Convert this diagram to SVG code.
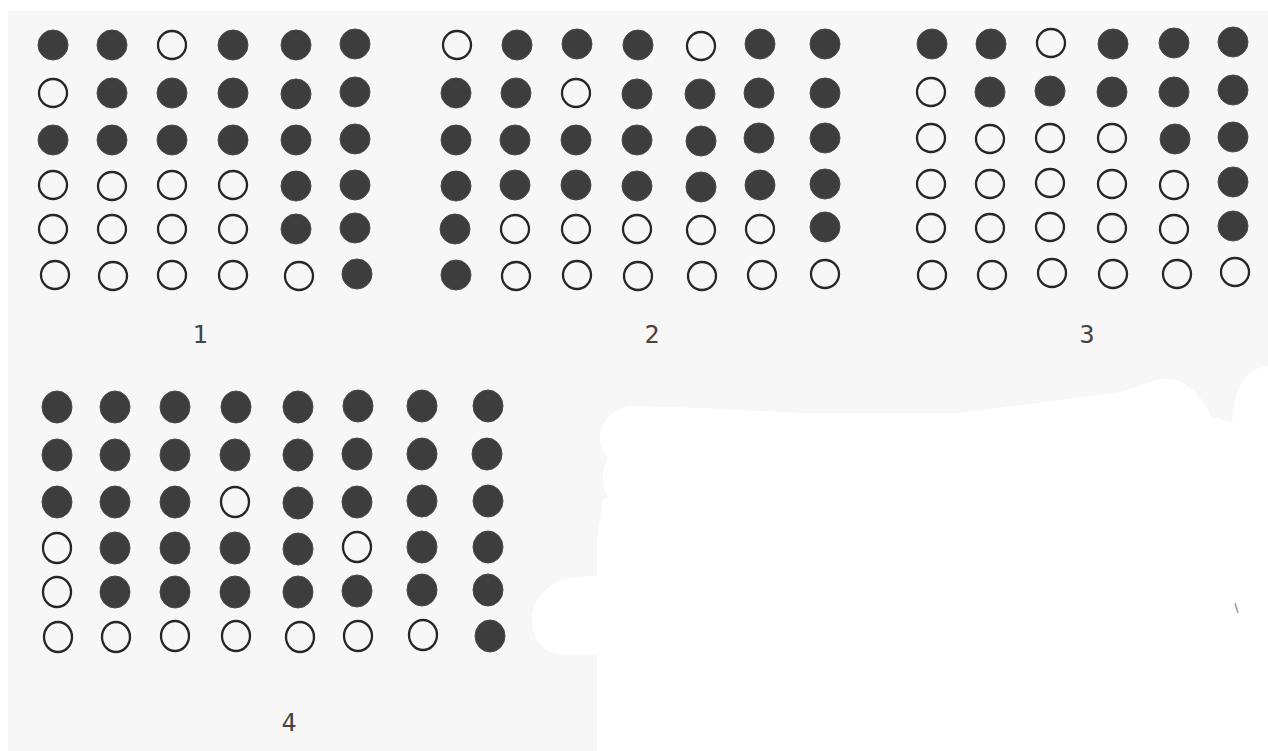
<svg xmlns="http://www.w3.org/2000/svg" width="1268" height="751" viewBox="0 0 1268 751">
<style>
.f{fill:#3d3d3d;stroke:#4a4a4a;stroke-width:1}
.o{fill:none;stroke:#262626;stroke-width:2.3}
.lbl{font-family:"DejaVu Sans Mono","Liberation Mono",monospace;font-size:25px;fill:#444;text-anchor:middle}
</style>
<rect x="0" y="0" width="1268" height="751" fill="#ffffff"/>
<rect x="8" y="11" width="1260" height="740" fill="#f7f7f7"/>
<path d="M597,751 L597,655 L565,655 C545,655 532,640 532,620 C532,598 550,580 575,577 L597,576 L597,540 L603,500 L608,497 C601,485 601,470 608,458 C598,448 598,432 603,425 C610,412 620,407 632,406 L700,408 L800,413 L960,413 L1120,392 L1150,382 C1165,376 1178,378 1190,388 C1202,398 1208,408 1210,416 L1232,422 L1235,400 C1240,378 1252,368 1268,366 L1268,751 Z" fill="#ffffff"/>
<path d="M1235,603 L1238,613" stroke="#999" stroke-width="1.5" fill="none"/>
<g id="connectors"/>
<g id="grid1">
<circle class="f" cx="53" cy="45" r="15"/><circle class="f" cx="112" cy="45" r="15"/><circle class="o" cx="172" cy="45" r="14"/><circle class="f" cx="233" cy="45" r="15"/><circle class="f" cx="296" cy="45" r="15"/><circle class="f" cx="355" cy="44" r="15"/>
<circle class="o" cx="53" cy="93" r="14"/><circle class="f" cx="112" cy="93" r="15"/><circle class="f" cx="172" cy="93" r="15"/><circle class="f" cx="233" cy="93" r="15"/><circle class="f" cx="296" cy="94" r="15"/><circle class="f" cx="355" cy="92" r="15"/>
<circle class="f" cx="53" cy="140" r="15"/><circle class="f" cx="112" cy="140" r="15"/><circle class="f" cx="172" cy="140" r="15"/><circle class="f" cx="233" cy="140" r="15"/><circle class="f" cx="296" cy="140" r="15"/><circle class="f" cx="355" cy="139" r="15"/>
<circle class="o" cx="53" cy="185" r="14"/><circle class="o" cx="112" cy="186" r="14"/><circle class="o" cx="172" cy="185" r="14"/><circle class="o" cx="233" cy="185" r="14"/><circle class="f" cx="296" cy="186" r="15"/><circle class="f" cx="355" cy="185" r="15"/>
<circle class="o" cx="53" cy="229" r="14"/><circle class="o" cx="112" cy="229" r="14"/><circle class="o" cx="172" cy="229" r="14"/><circle class="o" cx="233" cy="229" r="14"/><circle class="f" cx="296" cy="229" r="15"/><circle class="f" cx="355" cy="228" r="15"/>
<circle class="o" cx="55" cy="275" r="14"/><circle class="o" cx="113" cy="276" r="14"/><circle class="o" cx="172" cy="275" r="14"/><circle class="o" cx="233" cy="275" r="14"/><circle class="o" cx="299" cy="276" r="14"/><circle class="f" cx="357" cy="274" r="15"/>
<text class="lbl" x="200" y="343">1</text>
</g>
<g id="grid2">
<circle class="o" cx="457" cy="45" r="14"/><circle class="f" cx="517" cy="45" r="15"/><circle class="f" cx="577" cy="44" r="15"/><circle class="f" cx="638" cy="45" r="15"/><circle class="o" cx="701" cy="46" r="14"/><circle class="f" cx="760" cy="44" r="15"/><circle class="f" cx="825" cy="44" r="15"/>
<circle class="f" cx="456" cy="93" r="15"/><circle class="f" cx="516" cy="93" r="15"/><circle class="o" cx="576" cy="93" r="14"/><circle class="f" cx="637" cy="94" r="15"/><circle class="f" cx="700" cy="94" r="15"/><circle class="f" cx="759" cy="93" r="15"/><circle class="f" cx="825" cy="93" r="15"/>
<circle class="f" cx="456" cy="140" r="15"/><circle class="f" cx="515" cy="140" r="15"/><circle class="f" cx="576" cy="140" r="15"/><circle class="f" cx="637" cy="140" r="15"/><circle class="f" cx="701" cy="141" r="15"/><circle class="f" cx="759" cy="138" r="15"/><circle class="f" cx="825" cy="138" r="15"/>
<circle class="f" cx="456" cy="186" r="15"/><circle class="f" cx="515" cy="185" r="15"/><circle class="f" cx="576" cy="185" r="15"/><circle class="f" cx="637" cy="186" r="15"/><circle class="f" cx="701" cy="187" r="15"/><circle class="f" cx="760" cy="185" r="15"/><circle class="f" cx="825" cy="184" r="15"/>
<circle class="f" cx="455" cy="229" r="15"/><circle class="o" cx="515" cy="229" r="14"/><circle class="o" cx="576" cy="229" r="14"/><circle class="o" cx="637" cy="229" r="14"/><circle class="o" cx="701" cy="230" r="14"/><circle class="o" cx="760" cy="229" r="14"/><circle class="f" cx="825" cy="227" r="15"/>
<circle class="f" cx="456" cy="275" r="15"/><circle class="o" cx="516" cy="276" r="14"/><circle class="o" cx="577" cy="275" r="14"/><circle class="o" cx="638" cy="276" r="14"/><circle class="o" cx="702" cy="276" r="14"/><circle class="o" cx="762" cy="275" r="14"/><circle class="o" cx="825" cy="274" r="14"/>
<text class="lbl" x="652" y="343">2</text>
</g>
<g id="grid3">
<circle class="f" cx="932" cy="44" r="15"/><circle class="f" cx="991" cy="44" r="15"/><circle class="o" cx="1051" cy="43" r="14"/><circle class="f" cx="1113" cy="44" r="15"/><circle class="f" cx="1174" cy="43" r="15"/><circle class="f" cx="1233" cy="42" r="15"/>
<circle class="o" cx="931" cy="92" r="14"/><circle class="f" cx="990" cy="92" r="15"/><circle class="f" cx="1050" cy="91" r="15"/><circle class="f" cx="1112" cy="92" r="15"/><circle class="f" cx="1174" cy="92" r="15"/><circle class="f" cx="1233" cy="90" r="15"/>
<circle class="o" cx="931" cy="138" r="14"/><circle class="o" cx="990" cy="139" r="14"/><circle class="o" cx="1050" cy="138" r="14"/><circle class="o" cx="1112" cy="138" r="14"/><circle class="f" cx="1175" cy="139" r="15"/><circle class="f" cx="1233" cy="137" r="15"/>
<circle class="o" cx="931" cy="184" r="14"/><circle class="o" cx="990" cy="184" r="14"/><circle class="o" cx="1050" cy="183" r="14"/><circle class="o" cx="1112" cy="184" r="14"/><circle class="o" cx="1174" cy="185" r="14"/><circle class="f" cx="1233" cy="182" r="15"/>
<circle class="o" cx="931" cy="228" r="14"/><circle class="o" cx="990" cy="228" r="14"/><circle class="o" cx="1050" cy="227" r="14"/><circle class="o" cx="1112" cy="228" r="14"/><circle class="o" cx="1174" cy="229" r="14"/><circle class="f" cx="1233" cy="226" r="15"/>
<circle class="o" cx="932" cy="275" r="14"/><circle class="o" cx="992" cy="275" r="14"/><circle class="o" cx="1052" cy="273" r="14"/><circle class="o" cx="1113" cy="274" r="14"/><circle class="o" cx="1177" cy="274" r="14"/><circle class="o" cx="1235" cy="272" r="14"/>
<text class="lbl" x="1087" y="343">3</text>
</g>
<g id="grid4">
<ellipse class="f" cx="57" cy="407" rx="15" ry="16"/><ellipse class="f" cx="115" cy="407" rx="15" ry="16"/><ellipse class="f" cx="175" cy="407" rx="15" ry="16"/><ellipse class="f" cx="236" cy="407" rx="15" ry="16"/><ellipse class="f" cx="298" cy="407" rx="15" ry="16"/><ellipse class="f" cx="358" cy="406" rx="15" ry="16"/><ellipse class="f" cx="422" cy="406" rx="15" ry="16"/><ellipse class="f" cx="488" cy="406" rx="15" ry="16"/>
<ellipse class="f" cx="57" cy="455" rx="15" ry="16"/><ellipse class="f" cx="115" cy="455" rx="15" ry="16"/><ellipse class="f" cx="175" cy="455" rx="15" ry="16"/><ellipse class="f" cx="235" cy="455" rx="15" ry="16"/><ellipse class="f" cx="298" cy="455" rx="15" ry="16"/><ellipse class="f" cx="357" cy="454" rx="15" ry="16"/><ellipse class="f" cx="422" cy="454" rx="15" ry="16"/><ellipse class="f" cx="487" cy="454" rx="15" ry="16"/>
<ellipse class="f" cx="57" cy="502" rx="15" ry="16"/><ellipse class="f" cx="115" cy="502" rx="15" ry="16"/><ellipse class="f" cx="175" cy="502" rx="15" ry="16"/><ellipse class="o" cx="235" cy="502" rx="14" ry="15"/><ellipse class="f" cx="298" cy="503" rx="15" ry="16"/><ellipse class="f" cx="357" cy="502" rx="15" ry="16"/><ellipse class="f" cx="422" cy="501" rx="15" ry="16"/><ellipse class="f" cx="488" cy="501" rx="15" ry="16"/>
<ellipse class="o" cx="57" cy="548" rx="14" ry="15"/><ellipse class="f" cx="115" cy="548" rx="15" ry="16"/><ellipse class="f" cx="175" cy="548" rx="15" ry="16"/><ellipse class="f" cx="235" cy="548" rx="15" ry="16"/><ellipse class="f" cx="298" cy="549" rx="15" ry="16"/><ellipse class="o" cx="357" cy="547" rx="14" ry="15"/><ellipse class="f" cx="422" cy="547" rx="15" ry="16"/><ellipse class="f" cx="488" cy="547" rx="15" ry="16"/>
<ellipse class="o" cx="57" cy="592" rx="14" ry="15"/><ellipse class="f" cx="115" cy="592" rx="15" ry="16"/><ellipse class="f" cx="175" cy="592" rx="15" ry="16"/><ellipse class="f" cx="235" cy="592" rx="15" ry="16"/><ellipse class="f" cx="298" cy="592" rx="15" ry="16"/><ellipse class="f" cx="357" cy="591" rx="15" ry="16"/><ellipse class="f" cx="422" cy="590" rx="15" ry="16"/><ellipse class="f" cx="488" cy="590" rx="15" ry="16"/>
<ellipse class="o" cx="58" cy="637" rx="14" ry="15"/><ellipse class="o" cx="116" cy="637" rx="14" ry="15"/><ellipse class="o" cx="175" cy="636" rx="14" ry="15"/><ellipse class="o" cx="236" cy="636" rx="14" ry="15"/><ellipse class="o" cx="300" cy="637" rx="14" ry="15"/><ellipse class="o" cx="358" cy="636" rx="14" ry="15"/><ellipse class="o" cx="423" cy="635" rx="14" ry="15"/><ellipse class="f" cx="490" cy="636" rx="15" ry="16"/>
<text class="lbl" x="289" y="731">4</text>
</g>
</svg>
